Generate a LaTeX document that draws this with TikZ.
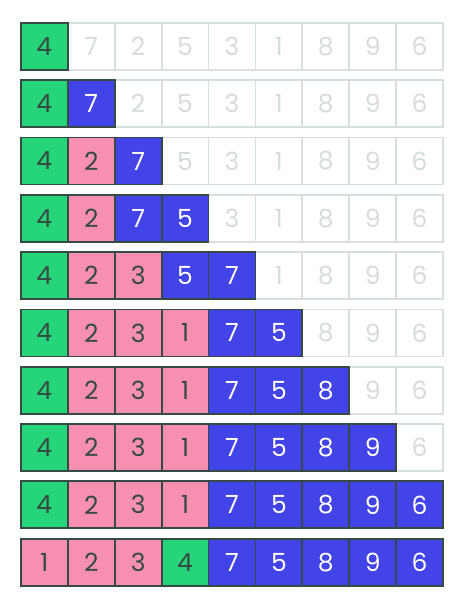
\documentclass[tikz,border=0pt]{standalone}
\usepackage{fontspec}
\setmainfont{Poppins}
\definecolor{fillg}{HTML}{26D47A}
\definecolor{fillb}{HTML}{4244E8}
\definecolor{fillp}{HTML}{F78FB0}
\definecolor{fille}{HTML}{FFFFFF}
\definecolor{drawg}{HTML}{354A44}
\definecolor{drawb}{HTML}{354A44}
\definecolor{drawp}{HTML}{354A44}
\definecolor{drawe}{HTML}{D8E0DE}
\definecolor{textg}{HTML}{354A44}
\definecolor{textb}{HTML}{FFFFFF}
\definecolor{textp}{HTML}{354A44}
\definecolor{texte}{HTML}{D5DDDB}
\begin{document}
\begin{tikzpicture}[x=1pt,y=-1pt,
  cellbase/.style={rectangle,anchor=north west,minimum width=46.9pt,minimum height=47pt,inner sep=0pt,line width=1.8pt,font=\fontsize{25}{25}\selectfont},
  cell/.style={cellbase,fill=fill#1,draw=draw#1,text=text#1}]
\useasboundingbox (0,0) rectangle (466,612);
\foreach \r/\row in {
  1/{4/g,7/e,2/e,5/e,3/e,1/e,8/e,9/e,6/e},
  2/{4/g,7/b,2/e,5/e,3/e,1/e,8/e,9/e,6/e},
  3/{4/g,2/p,7/b,5/e,3/e,1/e,8/e,9/e,6/e},
  4/{4/g,2/p,7/b,5/b,3/e,1/e,8/e,9/e,6/e},
  5/{4/g,2/p,3/p,5/b,7/b,1/e,8/e,9/e,6/e},
  6/{4/g,2/p,3/p,1/p,7/b,5/b,8/e,9/e,6/e},
  7/{4/g,2/p,3/p,1/p,7/b,5/b,8/b,9/e,6/e},
  8/{4/g,2/p,3/p,1/p,7/b,5/b,8/b,9/b,6/e},
  9/{4/g,2/p,3/p,1/p,7/b,5/b,8/b,9/b,6/b},
  10/{1/p,2/p,3/p,4/g,7/b,5/b,8/b,9/b,6/b}}{
  % empty cells first
  \foreach \d/\t [count=\c] in \row {
    \if e\t
      \node[cell=\t] (r\r-\c) at ({20+46.9*(\c-1)},{22+57.3*(\r-1)}) {\d};
    \fi
  }
  % filled cells on top
  \foreach \d/\t [count=\c] in \row {
    \if e\t\else
      \node[cell=\t] (r\r-\c) at ({20+46.9*(\c-1)},{22+57.3*(\r-1)}) {\d};
    \fi
  }
}
\end{tikzpicture}
\end{document}
